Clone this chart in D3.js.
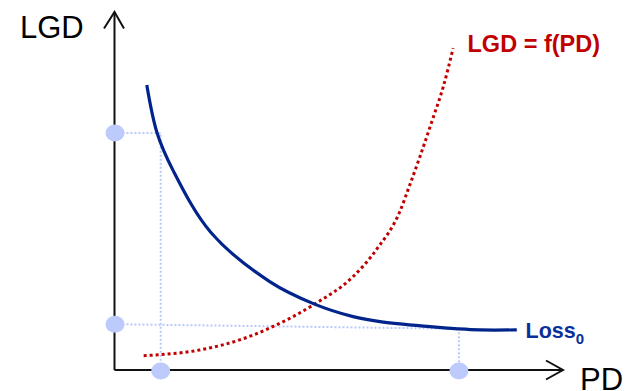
<!DOCTYPE html>
<html><head><meta charset="utf-8">
<script src="https://cdn.jsdelivr.net/npm/d3@7"></script>
<style>html,body{margin:0;padding:0;background:#fff}svg{display:block}</style>
</head><body>
<script>
// Data (arbitrary PD / LGD units, 0..100)
const lossPD  = [7.2, 9.5, 13.0, 21.5, 34.6, 44.6, 53.2, 59.2, 70.3, 76.6, 81.5, 89.7];
const lossLGD = [79.6, 66.2, 55.9, 38.4, 24.7, 18.4, 14.9, 13.5, 12.1, 11.5, 11.2, 11.2];
const fPD  = [6.5, 19.0, 27.9, 34.4, 44.6, 53.2, 58.5, 63.6, 65.7, 68.1, 71.0, 73.3, 75.5];
const fLGD = [4.0, 5.6, 8.4, 11.6, 18.4, 26.1, 33.8, 44.2, 51.2, 59.6, 70.3, 79.1, 89.9];
const markPD  = [10.3, 76.8];
const markLGD = [66.2, 12.8];
const lossEndLGD = 11.5;
const labels = {y: "LGD", x: "PD", f: "LGD = f(PD)", loss: "Loss", sub: "0"};

const W = 626, H = 391;
const svg = d3.select("body").append("svg").attr("width", W).attr("height", H);
const x = d3.scaleLinear().domain([0, 100]).range([114.5, 563]);
const y = d3.scaleLinear().domain([0, 100]).range([370, 12]);

const guide = "#b9c9f9";
const g1 = [[0, markLGD[0]], [markPD[0], markLGD[0]], [markPD[0], 0]];
const g2 = [[0, markLGD[1]], [markPD[1], lossEndLGD], [markPD[1], 0]];
const lin = d3.line().x(d => x(d[0])).y(d => y(d[1]));
[g1, g2].forEach(g => svg.append("path").attr("d", lin(g)).attr("fill", "none")
  .attr("stroke", guide).attr("stroke-width", 2).attr("stroke-dasharray", "2,2"));

// axes
const axisCol = "#111";
svg.append("line").attr("x1", x(0)).attr("y1", y(0)).attr("x2", x(0)).attr("y2", y(100))
  .attr("stroke", axisCol).attr("stroke-width", 2);
svg.append("line").attr("x1", x(0)).attr("y1", y(0)).attr("x2", x(100)).attr("y2", y(0))
  .attr("stroke", axisCol).attr("stroke-width", 2);
svg.append("path").attr("d", `M${x(0)-10.5},${y(100)+16.5}L${x(0)},${y(100)}L${x(0)+9.5},${y(100)+16.5}`)
  .attr("fill", "none").attr("stroke", axisCol).attr("stroke-width", 2);
svg.append("path").attr("d", `M${x(100)-17},${y(0)-9.5}L${x(100)},${y(0)}L${x(100)-17},${y(0)+9.5}`)
  .attr("fill", "none").attr("stroke", axisCol).attr("stroke-width", 2);

// circles
const circ = "#bccbfb";
markLGD.forEach(v => svg.append("ellipse").attr("cx", x(0)+0.5).attr("cy", y(v)).attr("rx", 9.5).attr("ry", 8.5).attr("fill", circ));
markPD.forEach(v => svg.append("ellipse").attr("cx", x(v)).attr("cy", y(0)+1).attr("rx", 9.5).attr("ry", 8.5).attr("fill", circ));

// curves
const curve = d3.line().x(d => x(d[0])).y(d => y(d[1])).curve(d3.curveMonotoneX);
svg.append("path").attr("d", curve(fPD.map((p, i) => [p, fLGD[i]])))
  .attr("fill", "none").attr("stroke", "#c00000").attr("stroke-width", 3).attr("stroke-dasharray", "3,3");
svg.append("path").attr("d", d3.line().x(d => x(d[0])).y(d => y(d[1])).curve(d3.curveCatmullRom.alpha(0.5))(lossPD.map((p, i) => [p, lossLGD[i]])))
  .attr("fill", "none").attr("stroke", "#00248c").attr("stroke-width", 3.2);

// labels
const font = "Liberation Sans, Arial, Helvetica, sans-serif";
svg.append("text").attr("x", 20).attr("y", 38).attr("font-family", font).attr("font-size", 31).attr("fill", "#000").text(labels.y);
svg.append("text").attr("x", 580).attr("y", 389.5).attr("font-family", font).attr("font-size", 31).attr("fill", "#000").text(labels.x);
svg.append("text").attr("x", 467.5).attr("y", 52.3).attr("font-family", font).attr("font-size", 23.5).attr("font-weight", "bold").attr("fill", "#c00000").text(labels.f);
const lt = svg.append("text").attr("x", 525.5).attr("y", 337.5).attr("font-family", font).attr("font-weight", "bold").attr("fill", "#0a2f9c");
lt.append("tspan").attr("font-size", 21.5).text(labels.loss);
lt.append("tspan").attr("font-size", 15).attr("dy", 6).text(labels.sub);
</script>
</body></html>
